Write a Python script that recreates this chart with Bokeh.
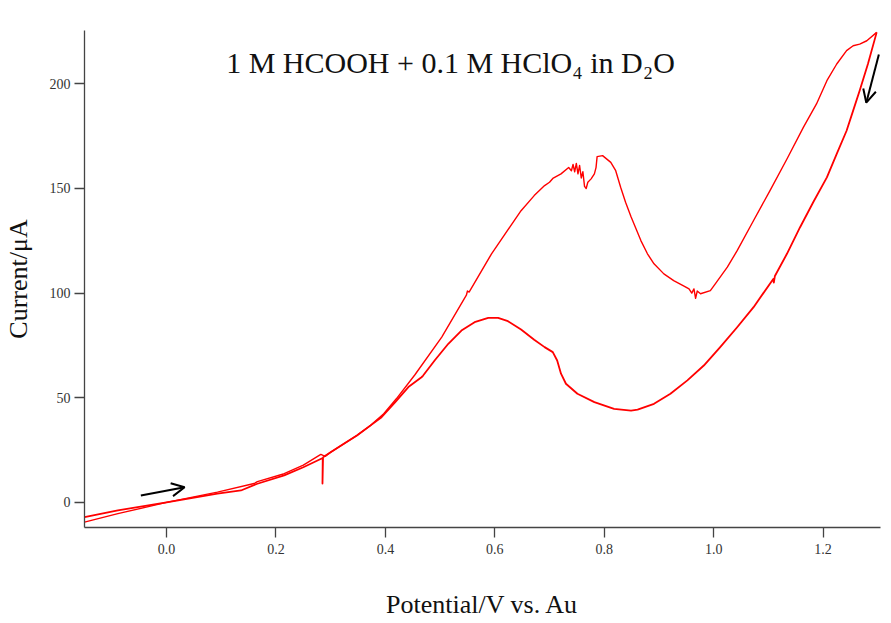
from bokeh.plotting import figure
from bokeh.models import FixedTicker, Range1d, Label, Arrow, OpenHead
from bokeh.embed import file_html
from bokeh.resources import INLINE

# ---- data ----
# anodic (forward) sweep, potential in V vs. Au, current in microamps
fwd_v = [-0.150, -0.089, 0.000, 0.093, 0.160, 0.166, 0.215, 0.250, 0.282, 0.290, 0.300,
         0.324, 0.348, 0.373, 0.397, 0.420, 0.454, 0.503, 0.548, 0.550, 0.553, 0.594,
         0.648, 0.672, 0.691, 0.700, 0.706, 0.721, 0.735, 0.740, 0.743, 0.746, 0.749,
         0.752, 0.755, 0.758, 0.761, 0.764, 0.767, 0.770, 0.776, 0.782, 0.785, 0.787,
         0.797, 0.812, 0.821, 0.830, 0.839, 0.849, 0.867, 0.879, 0.891, 0.909, 0.927,
         0.945, 0.955, 0.960, 0.964, 0.967, 0.970, 0.976, 0.994, 1.003, 1.025, 1.043,
         1.073, 1.103, 1.134, 1.164, 1.188, 1.207, 1.225, 1.243, 1.255, 1.267, 1.280,
         1.298]
fwd_i = [-9.4, -5.4, 0.0, 4.9, 9.0, 9.9, 13.7, 17.8, 22.9, 22.0, 24.0,
         28.0, 32.0, 36.8, 42.4, 49.5, 61.0, 79.0, 99.0, 101.0, 100.5, 118.8,
         139.4, 146.6, 151.4, 153.0, 154.8, 157.0, 160.0, 158.5, 161.5, 158.0, 162.0,
         157.0, 161.0, 155.0, 158.0, 151.0, 150.0, 153.0, 154.6, 157.0, 160.0, 165.2,
         165.7, 162.5, 158.5, 150.6, 143.4, 136.5, 125.1, 118.8, 114.0, 109.2, 106.0,
         103.5, 102.0, 100.0, 102.0, 97.5, 101.0, 99.7, 101.2, 104.4, 112.4, 120.3,
         134.7, 149.0, 164.1, 179.2, 190.4, 201.5, 209.5, 215.9, 218.2, 219.0, 220.6,
         224.6]

# cathodic (reverse) sweep
rev_v = [1.298, 1.282, 1.267, 1.255, 1.243, 1.225, 1.207, 1.182, 1.158, 1.134, 1.112,
         1.110, 1.109, 1.073, 1.043, 1.012, 0.982, 0.952, 0.921, 0.891, 0.861, 0.849,
         0.818, 0.782, 0.751, 0.730, 0.721, 0.714, 0.706, 0.691, 0.672, 0.648, 0.624,
         0.606, 0.588, 0.563, 0.539, 0.515, 0.490, 0.469, 0.466, 0.442, 0.418, 0.393,
         0.373, 0.348, 0.324, 0.300, 0.290, 0.286, 0.285, 0.2855, 0.250, 0.215, 0.166,
         0.136, 0.093, 0.000, -0.089, -0.150]
rev_i = [224.6, 209.5, 196.8, 187.2, 177.6, 166.5, 155.3, 143.4, 131.5, 118.8, 108.2,
         105.0, 106.8, 93.3, 83.7, 74.2, 65.4, 58.3, 51.9, 47.1, 44.3, 43.9,
         44.7, 47.9, 51.9, 56.7, 61.5, 67.8, 71.8, 74.2, 77.7, 82.6, 86.6,
         88.2, 88.2, 86.1, 82.1, 75.8, 67.8, 60.6, 59.8, 55.1, 47.9, 40.7,
         36.8, 32.0, 28.0, 24.0, 22.3, 21.5, 9.0, 21.2, 16.8, 12.9, 8.9,
         5.7, 4.2, 0.0, -3.8, -7.0]

x_ticks = [0.0, 0.2, 0.4, 0.6, 0.8, 1.0, 1.2]
x_tick_labels = ["0.0", "0.2", "0.4", "0.6", "0.8", "1.0", "1.2"]
y_ticks = [0, 50, 100, 150, 200]
y_tick_labels = ["0", "50", "100", "150", "200"]

title_text = "1 M HCOOH + 0.1 M HClO\u2084 in D\u2082O"
x_label = "Potential/V vs. Au"
y_label = "Current/\u03bcA"

# sweep-direction arrows (data coordinates)
arrow_x0 = [-0.047, 1.302]
arrow_y0 = [3.3, 214.0]
arrow_x1 = [0.033, 1.279]
arrow_y1 = [7.2, 191.0]

# ---- figure ----
p = figure(width=891, height=623, output_backend="svg", toolbar_location=None,
           x_range=Range1d(-0.15, 1.305), y_range=Range1d(-12, 225.5),
           min_border_left=82, min_border_right=11, min_border_top=30,
           min_border_bottom=96)
p.background_fill_color = "white"
p.border_fill_color = "white"
p.outline_line_color = None
p.grid.visible = False

p.line(fwd_v, fwd_i, line_color="#ff0000", line_width=1.4, line_join="round")
p.line(rev_v, rev_i, line_color="#ff0000", line_width=1.8, line_join="round")

for ax, ticks, labels in ((p.xaxis, x_ticks, x_tick_labels), (p.yaxis, y_ticks, y_tick_labels)):
    ax.ticker = FixedTicker(ticks=ticks)
    ax.major_label_overrides = {t: l for t, l in zip(ticks, labels)}
    ax.minor_tick_line_color = None
    ax.major_tick_in = 0
    ax.major_tick_out = 10
    ax.axis_line_color = "#444444"
    ax.axis_line_width = 1.3
    ax.major_tick_line_color = "#444444"
    ax.major_tick_line_width = 1.3
    ax.major_label_text_font = "Liberation Serif"
    ax.major_label_text_font_size = "14px"
    ax.major_label_text_color = "#333333"
    ax.axis_label_text_font = "Liberation Serif"
    ax.axis_label_text_font_style = "normal"
    ax.axis_label_text_font_size = "26px"
    ax.axis_label_text_color = "#111111"

p.xaxis.axis_label = x_label
p.yaxis.axis_label = y_label
p.xaxis.major_label_standoff = 6
p.yaxis.major_label_standoff = 4
p.xaxis.axis_label_standoff = 33
p.yaxis.axis_label_standoff = 14

p.add_layout(Label(x=0.519, y=210, text=title_text, text_align="center",
                   text_baseline="middle", text_font="Liberation Serif",
                   text_font_size="30px", text_color="#111111"))

for xs, ys, xe, ye in zip(arrow_x0, arrow_y0, arrow_x1, arrow_y1):
    p.add_layout(Arrow(end=OpenHead(size=13, line_width=2, line_color="black"),
                       x_start=xs, y_start=ys, x_end=xe, y_end=ye,
                       line_width=2, line_color="black"))

open("out.html", "w").write(file_html(p, INLINE))
